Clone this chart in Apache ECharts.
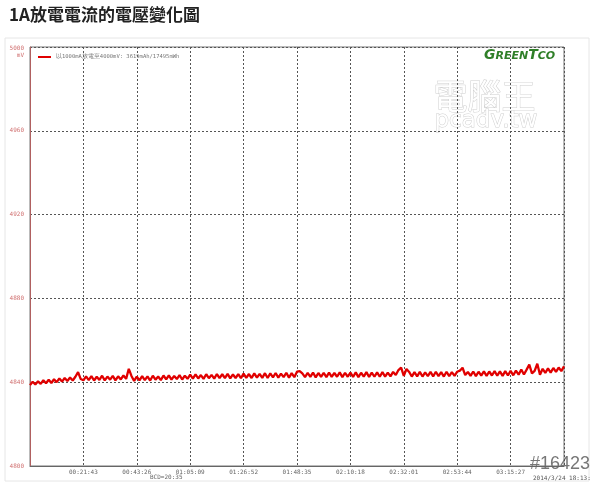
<!DOCTYPE html>
<html><head><meta charset="utf-8">
<script src="https://cdn.jsdelivr.net/npm/echarts@6/dist/echarts.min.js"></script>
<style>html,body{margin:0;padding:0;background:#fff;}#c{width:600px;height:485px;}</style>
</head><body><div id="c"></div>
<script>
// ---- data ----
const title = '1A放電電流的電壓變化圖';
const seriesName = '以1000mA放電至4000mV: 3619mAh/17495mWh';
const sampleSeconds = 65.15;          // seconds between samples
const xTickSeconds = 1303;            // 00:21:43 per gridline
const xMaxSeconds = 13030;
const yMin = 4800, yMax = 5000, yStep = 40;
const voltage = [
4838.6,4840.2,4838.9,4840.4,4839.2,4840.9,4839.5,4841.2,4839.6,4841.4,
4840.0,4841.8,4840.3,4842.0,4840.6,4842.2,4840.8,4842.6,4844.8,4841.5,
4840.9,4842.8,4841.0,4842.9,4840.8,4842.6,4841.1,4843.1,4840.9,4842.7,
4841.2,4843.0,4840.9,4842.8,4841.3,4843.2,4841.6,4846.4,4843.0,4840.6,
4842.7,4840.9,4842.9,4841.0,4842.8,4840.8,4843.1,4841.2,4842.7,4841.0,
4843.2,4841.3,4843.3,4841.2,4843.0,4841.5,4843.4,4841.3,4843.1,4841.6,
4843.6,4841.7,4843.7,4841.8,4843.4,4841.6,4843.8,4841.9,4843.5,4841.7,
4843.9,4841.9,4843.8,4842.0,4844.0,4841.8,4843.7,4842.0,4843.9,4841.9,
4844.1,4842.1,4843.9,4842.0,4844.2,4842.2,4844.0,4842.1,4844.3,4842.0,
4844.2,4842.3,4844.4,4842.2,4844.1,4842.4,4844.5,4842.2,4844.3,4842.4,
4845.0,4845.3,4844.2,4842.4,4844.4,4842.5,4844.6,4842.3,4844.4,4842.5,
4844.5,4842.4,4844.6,4842.5,4844.4,4842.6,4844.7,4842.4,4844.5,4842.6,
4844.6,4842.5,4844.7,4842.4,4844.5,4842.7,4844.8,4842.5,4844.6,4842.6,
4844.7,4842.6,4844.8,4842.7,4844.6,4842.8,4844.9,4843.4,4845.8,4847.0,
4843.0,4846.3,4844.9,4842.7,4844.8,4842.8,4844.9,4842.7,4844.7,4842.9,
4844.9,4842.8,4845.0,4842.9,4844.8,4842.7,4845.0,4842.9,4844.8,4843.0,
4845.0,4845.5,4846.9,4843.4,4844.9,4843.0,4845.1,4842.9,4845.0,4843.1,
4845.2,4843.0,4845.1,4843.2,4845.3,4843.1,4845.2,4843.0,4845.3,4843.2,
4845.4,4843.3,4845.5,4843.6,4846.1,4843.7,4846.0,4848.4,4844.2,4845.4,
4848.8,4843.6,4846.4,4844.4,4846.6,4844.6,4846.8,4844.9,4847.0,4845.3,4847.6
];
const bottomNote = 'BCD=20:35';
const dateNote = '2014/3/24 18:13:';
const idNote = '#16423';

// ---- chart ----
function hms(s){s=Math.round(s);const h=Math.floor(s/3600),m=Math.floor(s%3600/60),ss=s%60;
  return [h,m,ss].map(v=>String(v).padStart(2,'0')).join(':');}
const pts = voltage.map((v,i)=>[i*sampleSeconds, v]);
const chart = echarts.init(document.getElementById('c'), null, {renderer:'canvas'});
const mono = 'DejaVu Sans Mono';
chart.setOption({
  animation:false,
  backgroundColor:'#fff',
  title:{text:title,left:4,top:1,textStyle:{fontSize:17,fontWeight:'bold',color:'#222',fontFamily:'Noto Sans CJK TC'}},
  grid:{left:30,right:36,top:47,bottom:19,show:true,borderColor:'#777',borderWidth:1},
  legend:{left:33,top:49,itemWidth:13,itemHeight:2,icon:'rect',itemGap:4,
    textStyle:{fontSize:5.5,color:'#777',fontFamily:mono},data:[seriesName]},
  xAxis:{type:'value',min:0,max:xMaxSeconds,interval:xTickSeconds,
    axisLine:{show:true,lineStyle:{color:'#666'}},axisTick:{show:false},
    axisLabel:{formatter:hms,showMinLabel:false,showMaxLabel:false,fontSize:6,color:'#666',fontFamily:mono,margin:3},
    splitLine:{show:true,lineStyle:{type:[2,2],color:'#555',width:1}}},
  yAxis:{type:'value',min:yMin,max:yMax,interval:yStep,
    axisLine:{show:true,lineStyle:{color:'#b06060'}},axisTick:{show:false},
    axisLabel:{fontSize:6,color:'#d07070',fontFamily:mono,margin:6,lineHeight:7,
      formatter:v=>v===yMax?'{t|'+v+'\nmV}':String(v),
      rich:{t:{fontSize:6,color:'#d07070',fontFamily:mono,lineHeight:7,padding:[9,0,0,0],align:'right'}}},
    splitLine:{show:true,lineStyle:{type:[2,2],color:'#555',width:1}}},
  series:[{name:seriesName,type:'line',data:pts,symbol:'none',
    lineStyle:{color:'#e00000',width:2.3},itemStyle:{color:'#e00000'},z:5}],
  graphic:[
    {type:'rect',shape:{x:5,y:38,width:584,height:443},style:{fill:'none',stroke:'#e6e6e6',lineWidth:1},z:-10,silent:true},
    {type:'text',left:484,top:48,style:{text:'{a|G}{b|REEN}{a|T}{b|CO}',rich:{
      a:{fontSize:14,fontStyle:'italic',fontWeight:'bold',fill:'#2f7f28',fontFamily:'DejaVu Sans'},
      b:{fontSize:11,fontStyle:'italic',fontWeight:'bold',fill:'#2f7f28',fontFamily:'DejaVu Sans',padding:[3,0,0,0]}}}},
    {type:'text',left:433,top:79,style:{text:'電腦王',fontSize:34,fontFamily:'Noto Sans CJK TC',fill:'#fff',stroke:'#cfcfcf',lineWidth:1}},
    {type:'text',left:434,top:109,style:{text:'pcadv.tw',fontSize:23,fontFamily:'DejaVu Sans',fill:'#fff',stroke:'#cfcfcf',lineWidth:1,letterSpacing:1}},
    {type:'text',left:150,top:474,style:{text:bottomNote,fontSize:6,fill:'#666',fontFamily:mono}},
    {type:'text',left:533,top:475,style:{text:dateNote,fontSize:6,fill:'#555',fontFamily:mono}},
    {type:'text',left:530,top:455,style:{text:idNote,fontSize:18,fill:'#777',fontFamily:'Liberation Sans',fontWeight:'normal'}}
  ]
});
</script></body></html>
